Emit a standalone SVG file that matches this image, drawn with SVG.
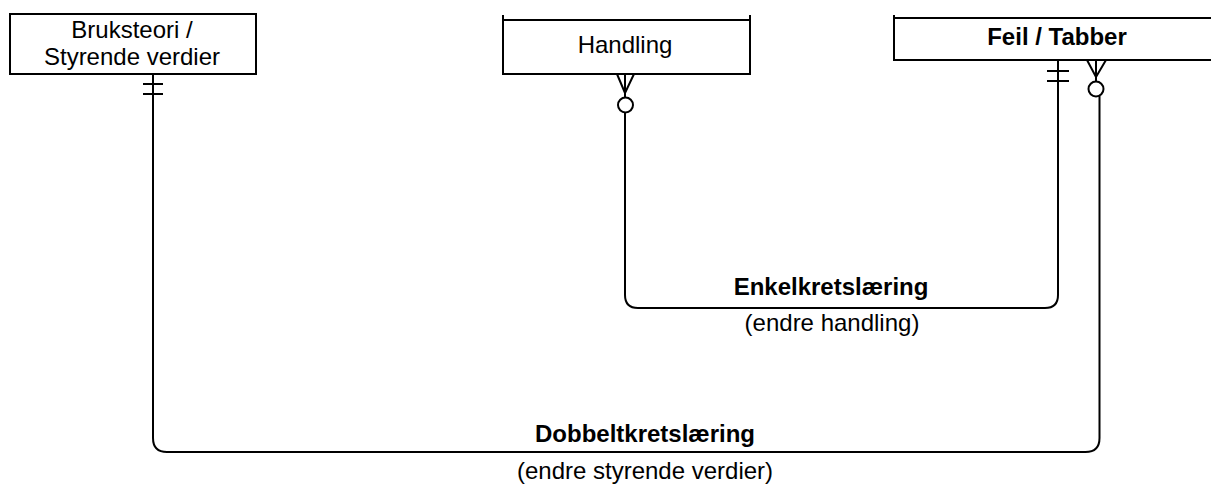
<svg xmlns="http://www.w3.org/2000/svg" width="1211" height="486" viewBox="0 0 1211 486">
  <style>
    .box { fill: #ffffff; stroke: #000000; stroke-width: 2; }
    .edge { fill: none; stroke: #000000; stroke-width: 2; }
    .lbl { font-family: "Liberation Sans", Arial, Helvetica, sans-serif; font-size: 24px; fill: #000000; text-anchor: middle; }
    .bold { font-weight: bold; }
  </style>
  <rect width="1211" height="486" fill="#ffffff"/>

  <!-- Entities -->
  <g id="bruksteori">
    <rect class="box" x="10" y="14" width="246" height="60"/>
    <text class="lbl" x="132" y="38">Bruksteori /</text>
    <text class="lbl" x="132" y="65">Styrende verdier</text>
  </g>

  <g id="handling">
    <rect class="box" x="503" y="20" width="247" height="54"/>
    <path class="edge" d="M503,15 V20 M750,15 V20"/>
    <text class="lbl" x="625" y="53">Handling</text>
  </g>

  <g id="feil">
    <rect class="box" x="894" y="18" width="330" height="42"/>
    <path class="edge" d="M894,15 V18"/>
    <text class="lbl bold" x="1057" y="45">Feil / Tabber</text>
  </g>

  <!-- Relationships -->
  <g id="connectors">
    <!-- Dobbeltkretslæring: Bruksteori (one) to Feil / Tabber (zero or many) -->
    <path class="edge" d="M153,74 V438 Q153,452 167,452 H1085.5 Q1099.5,452 1099.5,438 V96"/>
    <path class="edge" d="M143,84 H163 M143,94 H163"/>
    <path class="edge" d="M1087,60 L1096,77 L1106,60 M1096,60 V81"/>
    <circle class="edge" cx="1096" cy="89" r="7.5"/>

    <!-- Enkelkretslæring: Handling (zero or many) to Feil / Tabber (one) -->
    <path class="edge" d="M625,112.5 V295 Q625,308 638,308 H1045 Q1058,308 1058,295 V60"/>
    <path class="edge" d="M1047,71 H1069 M1047,81 H1069"/>
    <path class="edge" d="M617,74 L625,93 L634,74 M625,74 V97.5"/>
    <circle class="edge" cx="625.5" cy="105" r="7.5"/>
  </g>

  <g id="labels">
    <text class="lbl bold" x="831" y="295">Enkelkretslæring</text>
    <text class="lbl" x="832" y="331">(endre handling)</text>
    <text class="lbl bold" x="645" y="442">Dobbeltkretslæring</text>
    <text class="lbl" x="645" y="479">(endre styrende verdier)</text>
  </g>
</svg>
